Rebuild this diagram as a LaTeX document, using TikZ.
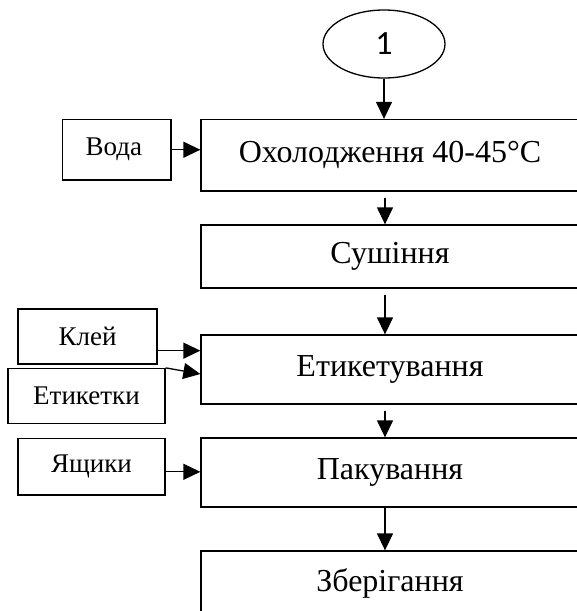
\documentclass[tikz,border=0pt]{standalone}
\usepackage{fontspec}
\setmainfont{Liberation Serif}
\newfontfamily\calib{Carlito}
\usetikzlibrary{arrows.meta,calc,shapes.geometric}
\tikzset{
  mainbox/.style={draw, line width=1.3pt, minimum width=378pt, inner sep=0pt, font=\fontsize{32}{38}\selectfont},
  sidebox/.style={draw, line width=1.3pt, inner sep=0pt, font=\fontsize{27}{32}\selectfont},
  flow/.style={line width=1.3pt, -{Triangle[length=17pt,width=16pt]}},
}
\begin{document}
\begin{tikzpicture}[x=1pt,y=-1pt]
\useasboundingbox (0,0) rectangle (577,611);
\clip (0,0) rectangle (577,611);
\node[draw, line width=1.3pt, ellipse, minimum width=122pt, minimum height=68pt, inner sep=0pt, font=\calib\fontsize{34}{40}\selectfont] (e1) at (384,44) {1};
\node[mainbox, minimum height=71.5pt] (b1) at (390,155.25) {Охолодження 40-45°C};
\node[mainbox, minimum height=63pt] (b2) at (390,256.5) {Сушіння};
\node[mainbox, minimum height=69pt] (b3) at (390,369.5) {Етикетування};
\node[mainbox, minimum height=69pt] (b4) at (390,472.5) {Пакування};
\node[mainbox, minimum height=109pt] (b5) at (390,605.5) {};
\node[font=\fontsize{32}{38}\selectfont, inner sep=0pt] (b5t) at (390,583) {Зберігання};
\node[sidebox, minimum width=108.5pt, minimum height=60.5pt] (s1) at (116.75,149.75) {\hspace*{-6pt}Вода};
\node[sidebox, minimum width=139pt, minimum height=55pt] (s2) at (87.5,336.5) {Клей};
\node[sidebox, minimum width=157pt, minimum height=55pt] (s3) at (86.5,396) {Етикетки};
\node[sidebox, minimum width=147pt, minimum height=56.5pt] (s4) at (91.5,466.8) {Ящики};
\coordinate (a1s) at ($(b1.south)+(-5,6)$);
\coordinate (a2s) at ($(b2.south)+(-5,6)$);
\coordinate (a3s) at ($(b3.south)+(-5,6)$);
\coordinate (a4s) at ($(b4.south)+(-5,0)$);
\draw[flow] (e1.south) -- (e1.south |- b1.north);
\draw[flow] (a1s) -- (a1s |- b2.north);
\draw[flow] (a2s) -- (a2s |- b3.north);
\draw[flow] (a3s) -- (a3s |- b4.north);
\draw[flow] (a4s) -- (a4s |- b5.north);
\draw[flow] (s1.east) -- (s1.east -| b1.west);
\coordinate (k1) at ($(s2.south east)+(0,-14)$);
\draw[flow] (k1) -- (k1 -| b3.west);
\coordinate (k2) at ($(b3.west)+(0,4.5)$);
\draw[flow] (s3.north east) -- (k2);
\draw[flow] ($(s4.east)+(0,5)$) -- ($(s4.east -| b4.west)+(0,5)$);
\end{tikzpicture}
\end{document}
